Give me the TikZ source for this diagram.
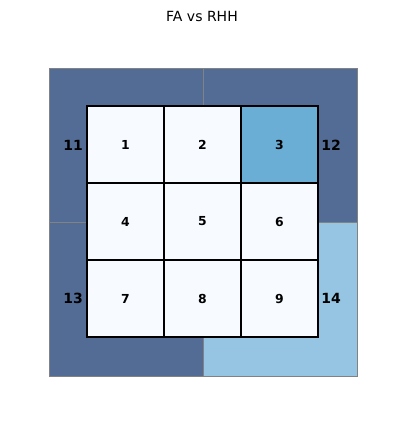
\documentclass[tikz,border=0pt]{standalone}
\usepackage{fontspec}
\setmainfont{DejaVu Sans}
\definecolor{darkquad}{RGB}{82,108,149}
\definecolor{lightquad}{RGB}{149,197,226}
\definecolor{hotcell}{RGB}{106,174,214}
\definecolor{plaincell}{RGB}{247,251,255}
\definecolor{edgegrey}{RGB}{130,130,130}

\begin{document}
\begin{tikzpicture}[x=1pt,y=-1pt,
    quad/.style={draw=edgegrey, line width=0.8pt, minimum size=154pt, inner sep=0pt, outer sep=0pt},
    cell/.style={draw=black, line width=1.3pt, minimum size=77pt, inner sep=0pt, outer sep=0pt, fill=plaincell, font=\fontsize{12.4}{14}\selectfont\bfseries},
    lbl/.style={inner sep=0pt, font=\fontsize{14}{16}\selectfont\bfseries}]
  \useasboundingbox (0,0) rectangle (404,424);
  \node[font=\fontsize{14}{16}\selectfont] (Title) at (202,16) {FA vs RHH};

  \node[quad, fill=darkquad] (Q11) at (126,145) {};
  \node[quad, fill=darkquad] (Q12) at (280,145) {};
  \node[quad, fill=darkquad] (Q13) at (126,299) {};
  \node[quad, fill=lightquad] (Q14) at (280,299) {};

  \node[lbl] (L11) at (73,145) {11};
  \node[lbl] (L12) at (331,145) {12};
  \node[lbl] (L13) at (73,298) {13};
  \node[lbl] (L14) at (331,298) {14};

  \node[cell] (C1) at (125.5,144.5) {1};
  \node[cell] (C2) at (202.5,144.5) {2};
  \node[cell, fill=hotcell] (C3) at (279.5,144.5) {3};
  \node[cell] (C4) at (125.5,221.5) {4};
  \node[cell] (C5) at (202.5,221.5) {5};
  \node[cell] (C6) at (279.5,221.5) {6};
  \node[cell] (C7) at (125.5,298.5) {7};
  \node[cell] (C8) at (202.5,298.5) {8};
  \node[cell] (C9) at (279.5,298.5) {9};
\end{tikzpicture}
\end{document}
